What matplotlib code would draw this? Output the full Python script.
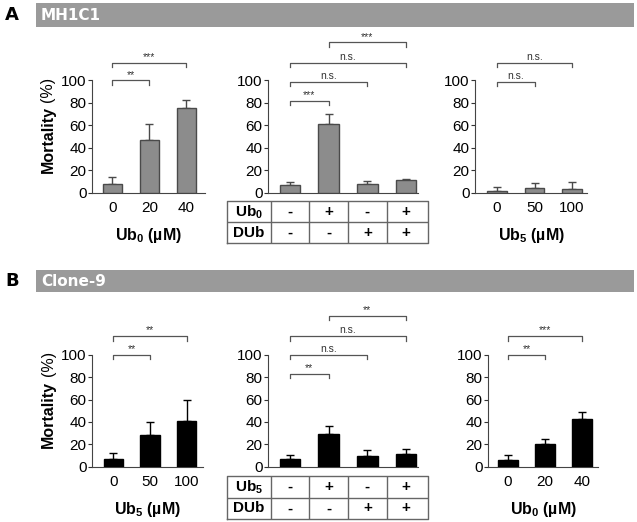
import matplotlib
matplotlib.use("Agg")
import matplotlib.pyplot as plt
import numpy as np

plt.rcParams['font.family'] = ['Liberation Sans', 'DejaVu Sans']
plt.rcParams['mathtext.fontset'] = 'custom'
plt.rcParams['mathtext.rm'] = 'Liberation Sans'
plt.rcParams['mathtext.bf'] = 'Liberation Sans:bold'

# ---------------- data ----------------
a1_labels = ["0", "20", "40"]
a1_vals = [7.5, 47, 75]
a1_err = [6, 14, 8]

a2_vals = [7, 61.5, 8, 11.5]
a2_err = [2.5, 9, 2.5, 1]
a2_row1 = ["-", "+", "-", "+"]
a2_row2 = ["-", "-", "+", "+"]

a3_labels = ["0", "50", "100"]
a3_vals = [1.5, 4, 3]
a3_err = [3, 4.5, 6.5]

b1_labels = ["0", "50", "100"]
b1_vals = [6.5, 28.5, 41]
b1_err = [5.5, 11.5, 19]

b2_vals = [7, 29.5, 9.5, 11]
b2_err = [3.5, 7, 5.5, 5]
b2_row1 = ["-", "+", "-", "+"]
b2_row2 = ["-", "-", "+", "+"]

b3_labels = ["0", "20", "40"]
b3_vals = [6, 20, 43]
b3_err = [4, 5, 5.5]

yticks = [0, 20, 40, 60, 80, 100]

# brackets: (i, j, level, text)
a1_br = [(0, 1, 100, "**"), (0, 2, 116, "***")]
a2_br = [(0, 1, 82, "***"), (0, 2, 99, "n.s."), (0, 3, 116, "n.s."), (1, 3, 134, "***")]
a3_br = [(0, 1, 99, "n.s."), (0, 2, 116, "n.s.")]
b1_br = [(0, 1, 100, "**"), (0, 2, 117, "**")]
b2_br = [(0, 1, 83, "**"), (0, 2, 100, "n.s."), (0, 3, 117, "n.s."), (1, 3, 135, "**")]
b3_br = [(0, 1, 100, "**"), (0, 2, 117, "***")]

W, H = 637, 522
fig = plt.figure(figsize=(W / 100, H / 100), dpi=100)

GRAY = "#8c8c8c"
EDGE_A = "#4a4a4a"
LINE = "#555555"


def px_axes(l, r, t, b):
    return fig.add_axes([l / W, 1 - b / H, (r - l) / W, (b - t) / H])


def header(y_top, y_bot, letter, title):
    hx = px_axes(36, 634, y_top, y_bot)
    hx.set_xlim(0, 1)
    hx.set_ylim(0, 1)
    hx.axis("off")
    hx.add_patch(plt.Rectangle((0, 0), 1, 1, color="#9a9a9a", transform=hx.transAxes))
    hx.text(0.008, 0.5, title, color="white", fontsize=11, fontweight="heavy",
            family="DejaVu Sans", va="center", ha="left", transform=hx.transAxes)
    fig.text(5 / W, 1 - (y_top + y_bot) / 2 / H, letter, fontsize=13, fontweight="heavy",
             family="DejaVu Sans", va="center", ha="left")


def bar_panel(box, xlim, vals, errs, color, edge, brackets, labels=None, xlabel=None,
              ylabel=False):
    l, r, t, b = box
    ax = px_axes(l, r, t, b)
    x = np.arange(len(vals))
    ax.bar(x, vals, width=0.53, color=color, edgecolor=edge, linewidth=1.0, zorder=3)
    ax.errorbar(x, vals, yerr=[np.zeros(len(vals)), errs], fmt="none", ecolor=edge,
                elinewidth=1.0, capsize=3.2, capthick=1.0, zorder=2)
    ax.set_xlim(*xlim)
    ax.set_ylim(0, 100)
    ax.set_yticks(yticks)
    ax.tick_params(axis="y", length=3, width=0.8, labelsize=11, pad=1, color="#333333")
    for s in ["top", "right"]:
        ax.spines[s].set_visible(False)
    for s in ["left", "bottom"]:
        ax.spines[s].set_color("#444444")
        ax.spines[s].set_linewidth(0.8)
    if labels is not None:
        ax.set_xticks(x)
        ax.set_xticklabels(labels, fontsize=11)
        ax.tick_params(axis="x", length=0, pad=6)
    else:
        ax.set_xticks([])
    if xlabel is not None:
        ax.set_xlabel(xlabel, fontsize=11.5, fontweight="bold", labelpad=8)
    if ylabel:
        t1 = ax.text(-0.39, 0.47, "Mortality", rotation=90, fontsize=11.5, fontweight="bold",
                     transform=ax.transAxes, ha="center", va="center")
        ax.annotate("(%)", xy=(0.5, 1.0), xycoords=t1, xytext=(0, 3),
                    textcoords="offset points", rotation=90, fontsize=11.5,
                    ha="center", va="bottom")
    h = 4.0
    for i, j, lev, txt in brackets:
        ax.plot([i, i, j, j], [lev - h, lev, lev, lev - h], color=LINE, lw=0.9,
                clip_on=False)
        ax.text((i + j) / 2, lev + 0.5, txt, fontsize=7.5, ha="center", va="bottom",
                color="#333333", clip_on=False)
    return ax


def table(ax, box_px, ax_box, row_names, row1, row2):
    l, r, t, b = box_px
    al, ar = ax_box
    a, bb = ax.get_xlim()
    s = (bb - a) / (ar - al)
    tl = a + (l - al) * s
    tr = a + (r - al) * s
    tx = px_axes(l, r, t, b)
    tx.set_xlim(tl, tr)
    tx.set_ylim(0, 2)
    tx.axis("off")
    lc = "#666666"
    tx.plot([tl, tr, tr, tl, tl], [0, 0, 2, 2, 0], color=lc, lw=1.0, clip_on=False)
    tx.plot([tl, tr], [1, 1], color=lc, lw=1.0)
    n = len(row1)
    for k in range(n):
        tx.plot([k - 0.5, k - 0.5], [0, 2], color=lc, lw=1.0)
    tx.text((tl - 0.5) / 2, 1.5, row_names[0], fontsize=11, fontweight="bold",
            ha="center", va="center")
    tx.text((tl - 0.5) / 2, 0.5, row_names[1], fontsize=11, fontweight="bold",
            ha="center", va="center")
    for k in range(n):
        tx.text(k, 1.5, row1[k], fontsize=11, fontweight="bold", ha="center", va="center")
        tx.text(k, 0.5, row2[k], fontsize=11, fontweight="bold", ha="center", va="center")


# ---------------- Panel A ----------------
header(3, 27, "A", "MH1C1")
ub0 = r"Ub$_\mathbf{0}$ (µM)"
ub5 = r"Ub$_\mathbf{5}$ (µM)"

bar_panel((92, 205, 80.5, 192.5), (-0.55, 2.5), a1_vals, a1_err, GRAY, EDGE_A, a1_br,
          a1_labels, ub0, ylabel=True)
axA2 = bar_panel((268, 418, 80.5, 192.5), (-0.57, 3.31), a2_vals, a2_err, GRAY, EDGE_A,
                 a2_br)
table(axA2, (227, 428, 201.5, 243), (268, 418), [r"Ub$_\mathbf{0}$", "DUb"], a2_row1, a2_row2)
bar_panel((475, 587, 80.5, 192.5), (-0.59, 2.4), a3_vals, a3_err, GRAY, EDGE_A, a3_br,
          a3_labels, ub5)

# ---------------- Panel B ----------------
header(270, 292, "B", "Clone-9")
bar_panel((92, 203, 355, 466.5), (-0.58, 2.45), b1_vals, b1_err, "black", "black", b1_br,
          b1_labels, ub5, ylabel=True)
axB2 = bar_panel((268, 418, 355, 466.5), (-0.57, 3.31), b2_vals, b2_err, "black", "black",
                 b2_br)
table(axB2, (227, 428, 476, 519), (268, 418), [r"Ub$_\mathbf{5}$", "DUb"], b2_row1, b2_row2)
bar_panel((488, 598, 355, 466.5), (-0.54, 2.43), b3_vals, b3_err, "black", "black", b3_br,
          b3_labels, ub0)

fig.savefig("out.png", dpi=100)
